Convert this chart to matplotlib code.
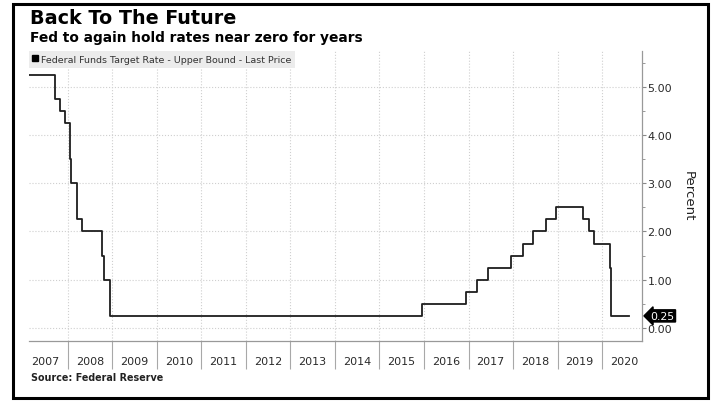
import numpy as np
import pandas as pd
import matplotlib
matplotlib.use('Agg')
import matplotlib.pyplot as plt
from matplotlib.lines import Line2D
from matplotlib.patches import Rectangle

# Fed funds target rate, upper bound (change dates)
dates = ['2007-02-18', '2007-09-18', '2007-10-31', '2007-12-11', '2008-01-22',
         '2008-01-30', '2008-03-18', '2008-04-30', '2008-10-08', '2008-10-29',
         '2008-12-16', '2015-12-16', '2016-12-14', '2017-03-15', '2017-06-14',
         '2017-12-13', '2018-03-21', '2018-06-13', '2018-09-26', '2018-12-19',
         '2019-08-01', '2019-09-19', '2019-10-31', '2020-03-04', '2020-03-16',
         '2020-08-07']
rates = [5.25, 4.75, 4.50, 4.25, 3.50,
         3.00, 2.25, 2.00, 1.50, 1.00,
         0.25, 0.50, 0.75, 1.00, 1.25,
         1.50, 1.75, 2.00, 2.25, 2.50,
         2.25, 2.00, 1.75, 1.25, 0.25,
         0.25]

years = list(range(2007, 2021))
yticks = [0, 1, 2, 3, 4, 5]

fig = plt.figure(figsize=(7.13, 4.02), dpi=100)
ax = fig.add_axes([0.0407, 0.1493, 0.8597, 0.7213])

x = pd.to_datetime(dates)
ax.plot(x, rates, drawstyle='steps-post', color='#1e1e1e', lw=1.3, zorder=3)

ax.set_xlim(pd.Timestamp('2007-02-18'), pd.Timestamp('2020-11-24'))
ax.set_ylim(-0.27, 5.74)

# year boundaries as long ticks, labels in the middle of each year
ax.set_xticks([pd.Timestamp(f'{y}-01-01') for y in years[1:]])
ax.set_xticklabels([])
ax.set_xticks([pd.Timestamp(f'{y}-07-01') for y in years], minor=True)
ax.set_xticklabels([str(y) for y in years], minor=True)
ax.tick_params(axis='x', which='major', length=20, color='#a8a8a8', width=0.8)
ax.tick_params(axis='x', which='minor', length=0, pad=11, labelsize=8, labelcolor='#2a2a2a')

ax.yaxis.tick_right()
ax.set_yticks(yticks)
ax.set_yticklabels([f'{v:.2f}' for v in yticks])
ax.set_yticks(np.arange(0.5, 5.6, 1.0), minor=True)
ax.tick_params(axis='y', which='major', length=3, color='#888888', labelsize=8,
               labelcolor='#2a2a2a', pad=1)
ax.tick_params(axis='y', which='minor', length=2, color='#888888')

ax.grid(which='major', axis='both', linestyle=':', color='#cfcfcf', lw=0.8)
for s in ['left', 'top']:
    ax.spines[s].set_visible(False)
for s in ['right', 'bottom']:
    ax.spines[s].set_color('#999999')
    ax.spines[s].set_linewidth(0.9)

handle = Line2D([], [], marker='s', color='black', ls='none', markersize=4.8)
leg = ax.legend([handle], ['Federal Funds Target Rate - Upper Bound - Last Price'],
                loc='upper left', bbox_to_anchor=(0, 1), borderaxespad=0,
                frameon=True, fancybox=False, facecolor='#ececec', edgecolor='none',
                framealpha=1, fontsize=6.8, handlelength=0.5, handletextpad=0.35,
                borderpad=0.4)
leg.get_texts()[0].set_color('#333333')

ax.annotate(f'{rates[-1]:.2f}', xy=(1, rates[-1]), xycoords=('axes fraction', 'data'),
            xytext=(6, 0), textcoords='offset points', ha='left', va='center',
            color='white', fontsize=7.8,
            bbox=dict(boxstyle='larrow,pad=0.1', fc='black', ec='black'))

fig.text(0.965, 1 - 196/402, 'Percent', rotation=270, ha='center', va='center',
         fontsize=9.5, color='#222222')

fig.text(0.042, 1 - 9/402, 'Back To The Future', fontsize=13.8, fontweight='bold', va='top')
fig.text(0.042, 1 - 31/402, 'Fed to again hold rates near zero for years', fontsize=9.9,
         fontweight='bold', va='top')
fig.text(0.043, 1 - 373/402, 'Source: Federal Reserve', fontsize=6.9, fontweight='bold',
         va='top', color='#222222')

fig.patches.append(Rectangle((0.0182, 0.007), 0.975, 0.98, transform=fig.transFigure,
                             fill=False, lw=2.2, ec='black'))

fig.savefig('out.png', dpi=100)
